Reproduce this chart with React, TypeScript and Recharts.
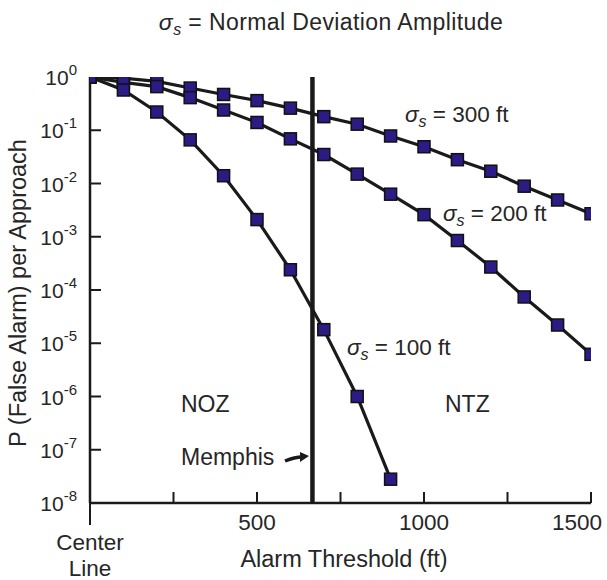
import React from 'react';
import { LineChart, Line, XAxis, YAxis, ReferenceLine } from 'recharts';

// alarm threshold in ft
const thresholds = [0, 100, 200, 300, 400, 500, 600, 700, 800, 900, 1000, 1100, 1200, 1300, 1400, 1500];

// P(false alarm) per approach
const sigma300 = [1, 0.95, 0.83, 0.62, 0.47, 0.36, 0.26, 0.18, 0.13, 0.078, 0.049, 0.028, 0.017, 0.0089, 0.0049, 0.0027];
const sigma200 = [1, 0.79, 0.66, 0.41, 0.24, 0.14, 0.069, 0.035, 0.015, 0.0063, 0.0026, 0.00085, 0.00027, 0.000074, 0.000022, 0.0000062];
const sigma100 = [1, 0.57, 0.22, 0.066, 0.014, 0.0021, 0.00024, 0.000018, 0.000001, 0.000000028];

const yTicks = [1, 1e-1, 1e-2, 1e-3, 1e-4, 1e-5, 1e-6, 1e-7, 1e-8];
const rightTicks = [1e-2, 1e-3, 1e-4, 1e-5, 1e-6, 1e-7];
const xTicks = [0, 250, 500, 750, 1000, 1250, 1500];
const topTicks = [250, 500, 750];
const xLabels = [500, 1000, 1500];
const memphisThreshold = 666;

const data = thresholds.map((t, i) => ({
  t,
  s300: sigma300[i],
  s200: sigma200[i],
  s100: sigma100[i],
}));

const font = '"Liberation Sans", Arial, Helvetica, sans-serif';
const ink = '#1a1a1a';
const textColor = '#262626';

const SquareDot = (props: any) => {
  const { cx, cy, index } = props;
  if (cx == null || cy == null || isNaN(cy)) return <g key={`d-${index}`} />;
  return (
    <rect
      key={`d-${index}`}
      x={cx - 6}
      y={cy - 6}
      width={12}
      height={12}
      fill="#2a1c84"
      stroke="#111"
      strokeWidth={1.5}
    />
  );
};

const LeftTick = (props: any) => {
  const { x, y, payload } = props;
  const exp = Math.round(Math.log10(payload.value));
  return (
    <g>
      {exp < 0 && exp > -8 && <line x1={x} x2={x + 11} y1={y} y2={y} stroke={ink} strokeWidth={2} />}
      <text x={x - 13} y={y} dy={8} textAnchor="end" fontSize={21} fill={textColor} fontFamily={font}>
        10
        <tspan dy={-10} fontSize={15}>{exp}</tspan>
      </text>
    </g>
  );
};

const RightTick = (props: any) => {
  const { x, y } = props;
  return <line x1={x} x2={x - 11} y1={y} y2={y} stroke={ink} strokeWidth={2} />;
};

const TopTick = (props: any) => {
  const { x, y } = props;
  return <line x1={x} x2={x} y1={y} y2={y + 11} stroke={ink} strokeWidth={2} />;
};

const BottomTick = (props: any) => {
  const { x, y, payload } = props;
  const v = payload.value;
  if (v === 0) {
    return (
      <g>
        <line x1={x} x2={x} y1={y} y2={y + 22} stroke={ink} strokeWidth={2} />
        <text x={x} y={y + 47} textAnchor="middle" fontSize={22.5} fill={textColor} fontFamily={font}>Center</text>
        <text x={x} y={y + 73} textAnchor="middle" fontSize={22.5} fill={textColor} fontFamily={font}>Line</text>
      </g>
    );
  }
  const isLast = v === 1500;
  return (
    <g>
      <line x1={x} x2={x} y1={y} y2={y - 11} stroke={ink} strokeWidth={2} />
      {xLabels.includes(v) && (
        <text
          x={isLast ? x + 11 : x}
          y={y + 27}
          textAnchor={isLast ? 'end' : 'middle'}
          fontSize={22.5}
          fill={textColor}
          fontFamily={font}
        >
          {v}
        </text>
      )}
    </g>
  );
};

const SigmaNote = ({ x, y, text }: { x: number; y: number; text: string }) => (
  <text x={x} y={y} fontSize={22.5} fill={textColor} fontFamily={font}>
    <tspan fontStyle="italic">σ</tspan>
    <tspan fontStyle="italic" fontSize={16} dy={5}>s</tspan>
    <tspan dy={-5}>{text}</tspan>
  </text>
);

export default function App() {
  return (
    <div style={{ position: 'absolute', left: 0, top: 0, width: 607, height: 580, background: '#fff' }}>
      <LineChart
        width={607}
        height={580}
        data={data}
        margin={{ top: 77, right: 16, bottom: 0, left: 0 }}
      >
        <XAxis
          dataKey="t"
          type="number"
          domain={[0, 1500]}
          ticks={xTicks}
          tickSize={0}
          tickMargin={0}
          tickLine={false}
          tick={<BottomTick />}
          height={77}
          axisLine={{ stroke: ink, strokeWidth: 2.5 }}
          allowDataOverflow
        />
        <XAxis
          xAxisId="top"
          orientation="top"
          type="number"
          domain={[0, 1500]}
          ticks={topTicks}
          tickSize={0}
          tickMargin={0}
          tickLine={false}
          tick={<TopTick />}
          height={0}
          axisLine={{ stroke: ink, strokeWidth: 1.5 }}
          allowDataOverflow
        />
        <YAxis
          type="number"
          scale="log"
          domain={[1e-8, 1]}
          ticks={yTicks}
          tickSize={0}
          tickMargin={0}
          tickLine={false}
          tick={<LeftTick />}
          width={90}
          axisLine={{ stroke: ink, strokeWidth: 2.5 }}
          allowDataOverflow
        />
        <YAxis
          yAxisId="right"
          orientation="right"
          type="number"
          scale="log"
          domain={[1e-8, 1]}
          ticks={rightTicks}
          tickSize={0}
          tickMargin={0}
          tickLine={false}
          tick={<RightTick />}
          width={0}
          axisLine={{ stroke: ink, strokeWidth: 2 }}
          allowDataOverflow
        />
        <ReferenceLine x={memphisThreshold} stroke={ink} strokeWidth={4.5} />
        <Line dataKey="s300" stroke={ink} strokeWidth={3.2} dot={SquareDot} activeDot={false} isAnimationActive={false} />
        <Line dataKey="s200" stroke={ink} strokeWidth={3.2} dot={SquareDot} activeDot={false} isAnimationActive={false} />
        <Line dataKey="s100" stroke={ink} strokeWidth={3.2} dot={SquareDot} activeDot={false} isAnimationActive={false} />
      </LineChart>

      <svg
        width={607}
        height={580}
        style={{ position: 'absolute', left: 0, top: 0, pointerEvents: 'none' }}
      >
        <text x={331} y={30} textAnchor="middle" fontSize={23} letterSpacing={0.4} fill={textColor} fontFamily={font}>
          <tspan fontStyle="italic">σ</tspan>
          <tspan fontStyle="italic" fontSize={16} dy={5}>s</tspan>
          <tspan dy={-5}> = Normal Deviation  Amplitude</tspan>
        </text>
        <text
          transform="rotate(-90)"
          x={-293}
          y={26}
          textAnchor="middle"
          fontSize={23.5}
          fill={textColor}
          fontFamily={font}
        >
          P (False Alarm) per Approach
        </text>
        <text x={344} y={567} textAnchor="middle" fontSize={23.5} fill={textColor} fontFamily={font}>
          Alarm Threshold (ft)
        </text>
        <SigmaNote x={405} y={122} text=" = 300 ft" />
        <SigmaNote x={443} y={221} text=" = 200 ft" />
        <SigmaNote x={347} y={355} text=" = 100 ft" />
        <text x={181} y={412} fontSize={23} fill={textColor} fontFamily={font}>NOZ</text>
        <text x={445} y={412} fontSize={23} fill={textColor} fontFamily={font}>NTZ</text>
        <text x={181} y={465} fontSize={23} fill={textColor} fontFamily={font}>Memphis</text>
        <path d="M285 461 Q295 457 302 457" stroke={ink} strokeWidth={3.5} fill="none" />
        <path d="M300 452 L309 456 L300 462 Z" fill={ink} />
      </svg>
    </div>
  );
}
